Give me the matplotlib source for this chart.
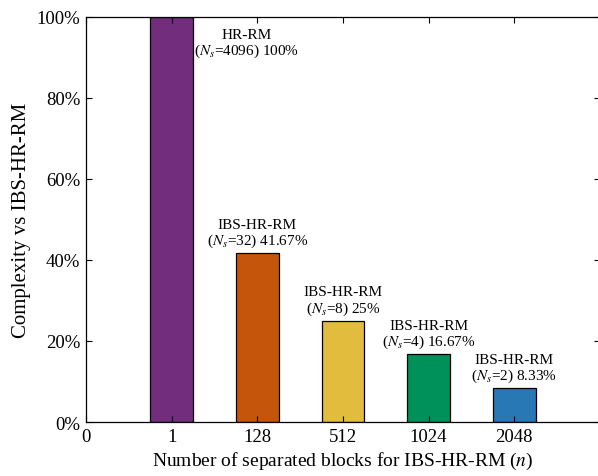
import matplotlib
matplotlib.use("Agg")
import matplotlib.pyplot as plt
from matplotlib.ticker import PercentFormatter

plt.rcParams['font.family'] = ['Liberation Serif', 'DejaVu Serif']
plt.rcParams['mathtext.fontset'] = 'stix'

# data
blocks = ['1', '128', '512', '1024', '2048']
complexity = [100, 41.67, 25, 16.67, 8.33]
schemes = ['HR-RM', 'IBS-HR-RM', 'IBS-HR-RM', 'IBS-HR-RM', 'IBS-HR-RM']
ns_values = [4096, 32, 8, 4, 2]
pct_labels = ['100%', '41.67%', '25%', '16.67%', '8.33%']
colors = ['#722D7D', '#C5550A', '#E2BC3D', '#00905A', '#2878B5']

fig = plt.figure(figsize=(5.98, 4.77), dpi=100)
ax = fig.add_axes([0.1438, 0.1132, 0.8595, 0.8491])

pos = list(range(1, len(blocks) + 1))
ax.bar(pos, complexity, width=0.5, color=colors, edgecolor='black', linewidth=0.9)

ax.set_xlim(0, 6)
ax.set_ylim(0, 100)
ax.set_xticks([0] + pos)
ax.set_xticklabels(['0'] + blocks)
ax.set_yticks(range(0, 101, 20))
ax.yaxis.set_major_formatter(PercentFormatter(decimals=0))
ax.tick_params(direction='in', length=4, width=0.8, labelsize=13.5,
               top=True, right=True, pad=4)
for s in ax.spines.values():
    s.set_linewidth(0.9)

ax.set_xlabel(r'Number of separated blocks for IBS-HR-RM ($n$)', fontsize=14, labelpad=4)
ax.set_ylabel('Complexity vs IBS-HR-RM', fontsize=15, labelpad=4)

for i, (p, v) in enumerate(zip(pos, complexity)):
    txt = schemes[i] + '\n' + r'($N_s$=' + str(ns_values[i]) + ') ' + pct_labels[i]
    if i == 0:
        ax.text(p + 0.88, 97.3, txt, ha='center', va='top', fontsize=11,
                linespacing=1.1)
    else:
        ax.annotate(txt, (p, v), xytext=(0, 3), textcoords='offset points',
                    ha='center', va='bottom', fontsize=11, linespacing=1.1)

fig.savefig('out.png', dpi=100)
